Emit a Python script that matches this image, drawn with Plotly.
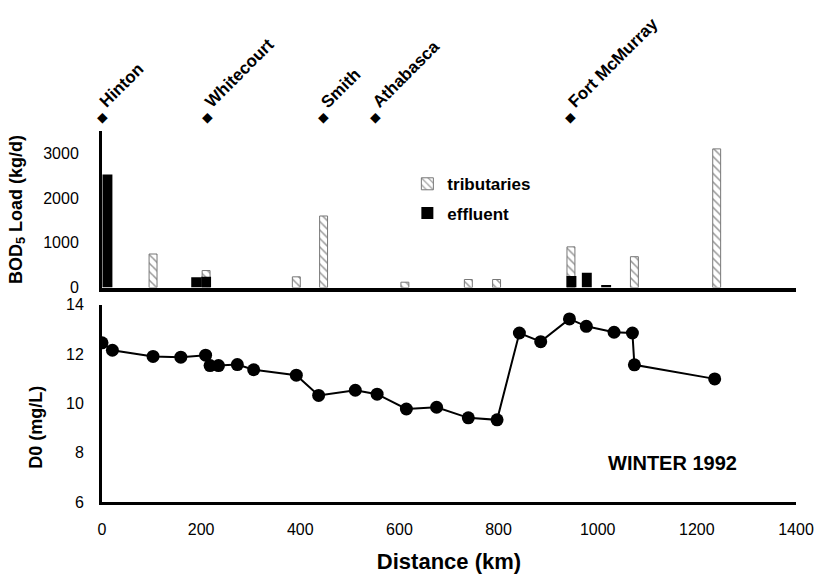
import plotly.graph_objects as go

# Dissolved oxygen along the river (distance in km, DO in mg/L)
do_km = [0, 21, 103, 159, 209, 218, 235, 273, 306, 392, 437, 511, 555, 614, 675, 739, 797,
         842, 885, 943, 977, 1033, 1070, 1074, 1236]
do_val = [12.45, 12.15, 11.9, 11.87, 11.95, 11.53, 11.53, 11.57, 11.36, 11.14, 10.32, 10.53,
          10.37, 9.77, 9.84, 9.41, 9.33, 12.85, 12.5, 13.42, 13.12, 12.88, 12.85, 11.56, 10.99]

# BOD5 loads (kg/d)
trib_km = [103, 210, 392, 447, 611, 739, 796, 946, 1074, 1240]
trib_load = [750, 380, 240, 1600, 120, 180, 180, 910, 690, 3100]
eff_km = [11, 190, 210, 947, 978, 1017]
eff_load = [2530, 230, 240, 260, 330, 60]

# Towns along the river
towns = ["Hinton", "Whitecourt", "Smith", "Athabasca", "Fort McMurray"]
town_km = [0, 212, 447, 552, 946]

FONT = "Liberation Sans, Arial, Helvetica, sans-serif"
TOWN_MARK_Y = 1.038   # paper height of the town markers
TOWN_TEXT_Y = 1.045

fig = go.Figure()

fig.add_trace(go.Bar(
    x=trib_km, y=trib_load, width=16, name="tributaries",
    xaxis="x2", yaxis="y2",
    marker=dict(color="white",
                line=dict(color="#777777", width=1),
                pattern=dict(shape="\\", fgcolor="#333333", bgcolor="white",
                             size=6, solidity=0.25)),
    legendgroup="t",
))
fig.add_trace(go.Bar(
    x=eff_km, y=eff_load, width=20, name="effluent",
    xaxis="x2", yaxis="y2",
    marker=dict(color="black", line=dict(color="black", width=0)),
    legendgroup="e",
))

fig.add_trace(go.Scatter(
    x=do_km, y=do_val, mode="lines+markers", showlegend=False,
    line=dict(color="black", width=2),
    marker=dict(size=13, color="black"),
))

annotations = []
for name, km in zip(towns, town_km):
    annotations.append(dict(
        x=km, y=TOWN_MARK_Y, xref="x2", yref="paper", text="◆", showarrow=False,
        xanchor="center", yanchor="middle",
        font=dict(family="DejaVu Sans", size=14, color="black"),
    ))
    annotations.append(dict(
        x=km, y=TOWN_TEXT_Y, xref="x2", yref="paper", text=name, showarrow=False,
        textangle=-45, xanchor="left", yanchor="bottom", xshift=-9,
        font=dict(family=FONT, size=17, color="black", weight="bold"),
    ))

annotations += [
    dict(x=1150, y=7.6, xref="x", yref="y", text="WINTER 1992", showarrow=False,
         font=dict(family=FONT, size=20, color="black", weight="bold")),
    dict(x=-0.122, y=0.788, xref="paper", yref="paper", text="BOD<sub>5</sub> Load (kg/d)",
         showarrow=False, textangle=-90, xanchor="center", yanchor="middle",
         font=dict(family=FONT, size=18, color="black", weight="bold")),
    dict(x=-0.095, y=0.2, xref="paper", yref="paper", text="D0 (mg/L)",
         showarrow=False, textangle=-90, xanchor="center", yanchor="middle",
         font=dict(family=FONT, size=18, color="black", weight="bold")),
]

tick_font = dict(family=FONT, size=16, color="black")

fig.update_layout(
    width=818, height=574,
    margin=dict(l=102, r=22, t=131, b=72),
    paper_bgcolor="white", plot_bgcolor="white",
    barmode="overlay",
    showlegend=True,
    legend=dict(x=0.44, y=0.905, xanchor="left", yanchor="top",
                bgcolor="rgba(0,0,0,0)", tracegroupgap=4,
                font=dict(family=FONT, size=17, color="black", weight="bold")),
    xaxis=dict(domain=[0, 1], range=[0, 1400], anchor="y", automargin=False,
               tickvals=[0, 200, 400, 600, 800, 1000, 1200, 1400],
               showgrid=False, zeroline=False, showline=True, linecolor="black",
               linewidth=3, ticks="", ticklabelstandoff=11, tickfont=tick_font,
               title=dict(text="Distance (km)", standoff=28,
                          font=dict(family=FONT, size=22, color="black", weight="bold"))),
    yaxis=dict(domain=[0, 0.532], range=[6, 14], anchor="x", automargin=False,
               tickvals=[6, 8, 10, 12, 14],
               showgrid=False, zeroline=False, showline=True, linecolor="black",
               linewidth=3, ticks="", ticklabelstandoff=12, tickfont=tick_font),
    xaxis2=dict(domain=[0, 1], range=[0, 1400], anchor="y2", matches="x",
                automargin=False,
                showticklabels=False, showgrid=False, zeroline=False,
                showline=True, linecolor="black", linewidth=4, ticks=""),
    yaxis2=dict(domain=[0.578, 1], range=[0, 3500], anchor="x2", automargin=False,
                tickvals=[0, 1000, 2000, 3000],
                showgrid=False, zeroline=False, showline=True, linecolor="black",
                linewidth=3, ticks="", ticklabelstandoff=17, tickfont=tick_font),
    annotations=annotations,
)

fig.write_html("out.html")
